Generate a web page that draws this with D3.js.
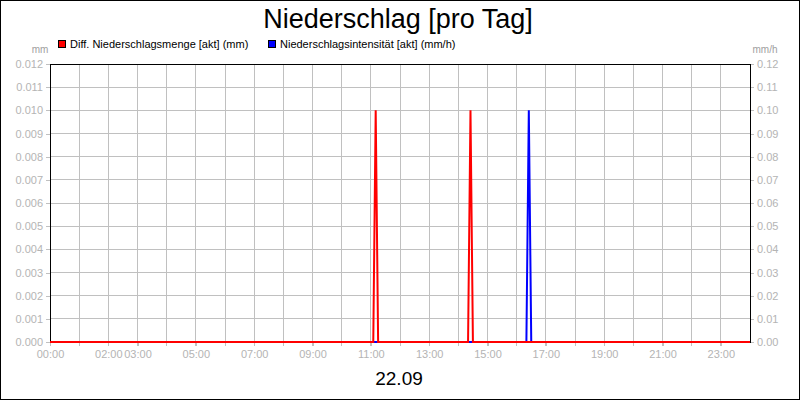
<!DOCTYPE html>
<meta charset="utf-8">
<script src="https://d3js.org/d3.v7.min.js"></script>
<style>
  body { margin: 0; }
  text { font-family: "Liberation Sans", Arial, sans-serif; }
</style>
<div id="chart"></div>
<script>

// data (5 minute samples around the rain events)
var mengeTimes = ["11:05", "11:10", "11:15", "14:20", "14:25", "14:30"];
var mengeValues = [0, 0.010, 0, 0, 0.010, 0];
var intensTimes = ["16:20", "16:25", "16:30"];
var intensValues = [0, 0.10, 0];

var leftTicks = [0, 0.001, 0.002, 0.003, 0.004, 0.005, 0.006, 0.007, 0.008, 0.009, 0.010, 0.011, 0.012];
var rightTicks = [0, 0.01, 0.02, 0.03, 0.04, 0.05, 0.06, 0.07, 0.08, 0.09, 0.10, 0.11, 0.12];
var xLabels = ["00:00", "02:00", "03:00", "05:00", "07:00", "09:00", "11:00", "13:00", "15:00", "17:00", "19:00", "21:00", "23:00"];

var W = 800, H = 400;
var margin = {top: 64, right: 50, bottom: 58, left: 50},
    width = W - margin.left - margin.right,
    height = H - margin.top - margin.bottom;

function hours(s) {
  var p = s.split(":");
  return +p[0] + (+p[1]) / 60;
}

var svg = d3.select("#chart")
  .append("svg")
    .attr("width", W)
    .attr("height", H);

// outer frame
svg.append("rect")
  .attr("x", 0.5).attr("y", 0.5)
  .attr("width", W - 1).attr("height", H - 1)
  .attr("fill", "white")
  .attr("stroke", "black");

var g = svg.append("g")
  .attr("transform", "translate(" + margin.left + "," + margin.top + ")");

var x = d3.scaleLinear().domain([0, 24]).range([0, width]);
var yL = d3.scaleLinear().domain([0, 0.012]).range([height, 0]);
var yR = d3.scaleLinear().domain([0, 0.12]).range([height, 0]);

// vertical grid, one line per hour, a bit below the axis
g.append("g")
  .selectAll("line")
  .data(d3.range(1, 24))
  .enter().append("line")
    .attr("x1", function(d) { return x(d); })
    .attr("x2", function(d) { return x(d); })
    .attr("y1", 0)
    .attr("y2", height + 4)
    .attr("stroke", "#c0c0c0")
    .attr("shape-rendering", "crispEdges");

// horizontal grid
g.append("g")
  .selectAll("line")
  .data(leftTicks.slice(1, -1))
  .enter().append("line")
    .attr("x1", 0)
    .attr("x2", width)
    .attr("y1", function(d) { return yL(d); })
    .attr("y2", function(d) { return yL(d); })
    .attr("stroke", "#c0c0c0")
    .attr("shape-rendering", "crispEdges");

// left axis
var axL = g.append("g")
  .call(d3.axisLeft(yL).tickValues(leftTicks).tickFormat(d3.format(".3f")).tickSize(4).tickPadding(3));
// right axis
var axR = g.append("g")
  .attr("transform", "translate(" + width + ",0)")
  .call(d3.axisRight(yR).tickValues(rightTicks).tickFormat(d3.format(".2f")).tickSize(4).tickPadding(3));
// bottom axis labels
var axB = g.append("g")
  .attr("transform", "translate(0," + height + ")")
  .call(d3.axisBottom(x).tickValues(xLabels.map(hours)).tickFormat(function(d, i) { return xLabels[i]; }).tickSize(4).tickPadding(4));

[axL, axR, axB].forEach(function(a) {
  a.select(".domain").remove();
  a.selectAll(".tick line").attr("stroke", "#c0c0c0").attr("shape-rendering", "crispEdges");
  a.selectAll(".tick text")
    .attr("fill", "#b4b4b4")
    .style("font-size", "11px")
    .style("font-family", "Liberation Sans, Arial, sans-serif");
});

// plot frame
g.append("rect")
  .attr("x", 0).attr("y", 0)
  .attr("width", width).attr("height", height)
  .attr("fill", "none")
  .attr("stroke", "black")
  .attr("shape-rendering", "crispEdges");

// series, padded with zero across the day
function series(times, values) {
  var pts = [[0, 0]];
  times.forEach(function(t, i) { pts.push([hours(t), values[i]]); });
  pts.push([24, 0]);
  return pts;
}

g.append("path")
  .datum(series(intensTimes, intensValues))
  .attr("fill", "none")
  .attr("stroke", "#0000ff")
  .attr("stroke-width", 2)
  .attr("d", d3.line().x(function(d) { return x(d[0]); }).y(function(d) { return yR(d[1]); }));

g.append("path")
  .datum(series(mengeTimes, mengeValues))
  .attr("fill", "none")
  .attr("stroke", "#ff0000")
  .attr("stroke-width", 2)
  .attr("d", d3.line().x(function(d) { return x(d[0]); }).y(function(d) { return yL(d[1]); }));

// title
svg.append("text")
  .attr("x", 398).attr("y", 28)
  .attr("text-anchor", "middle")
  .style("font-size", "27px")
  .text("Niederschlag [pro Tag]");

// date
svg.append("text")
  .attr("x", 399).attr("y", 385)
  .attr("text-anchor", "middle")
  .style("font-size", "19px")
  .text("22.09");

// units
svg.append("text")
  .attr("x", 40).attr("y", 53)
  .attr("text-anchor", "middle")
  .attr("fill", "#a0a0a0")
  .style("font-size", "10px")
  .text("mm");
svg.append("text")
  .attr("x", 765).attr("y", 53)
  .attr("text-anchor", "middle")
  .attr("fill", "#a0a0a0")
  .style("font-size", "10px")
  .text("mm/h");

// legend
var legend = [
  {name: "Diff. Niederschlagsmenge [akt] (mm)", color: "#ff0000", x: 58},
  {name: "Niederschlagsintensität [akt] (mm/h)", color: "#0000ff", x: 268}
];
var lg = svg.selectAll(".legend")
  .data(legend)
  .enter().append("g")
    .attr("transform", function(d) { return "translate(" + d.x + ",40)"; });
lg.append("rect")
  .attr("x", 0.5).attr("y", 0.5)
  .attr("width", 7).attr("height", 7)
  .attr("fill", function(d) { return d.color; })
  .attr("stroke", "black");
lg.append("text")
  .attr("x", 12).attr("y", 8)
  .style("font-size", "11px")
  .text(function(d) { return d.name; });

</script>
